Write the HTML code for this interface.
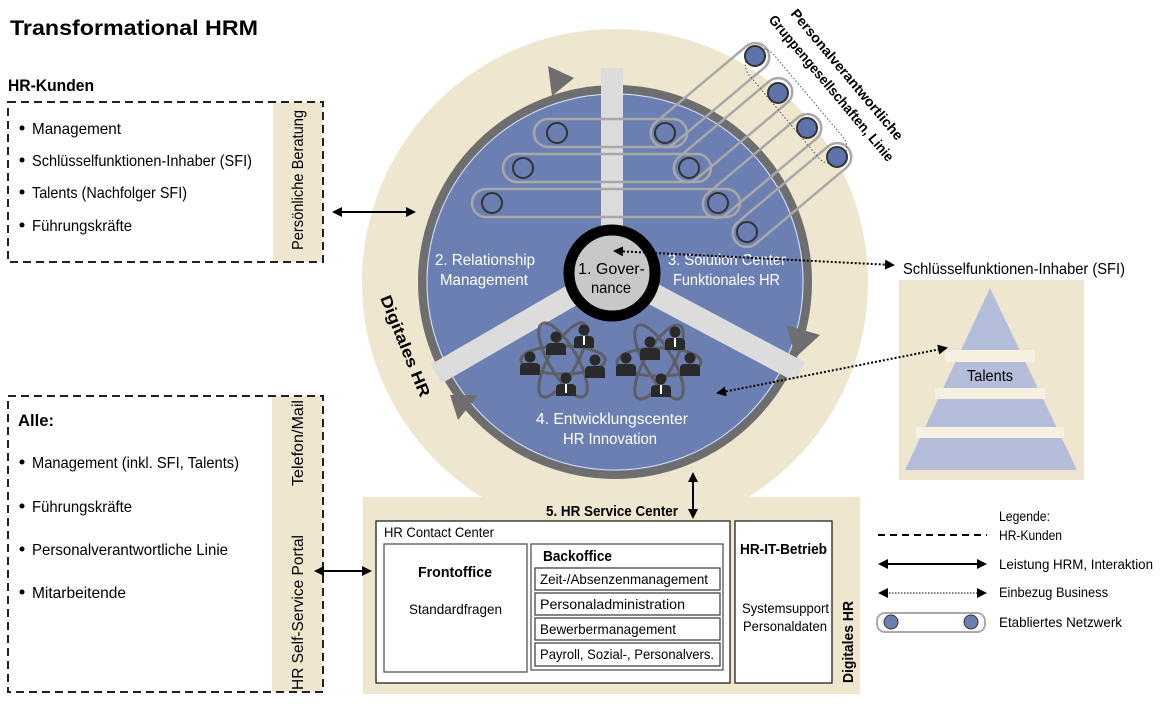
<!DOCTYPE html>
<html><head><meta charset="utf-8"><style>
html,body{margin:0;padding:0;background:#fff;}
svg{display:block;font-family:"Liberation Sans",sans-serif;}
</style></head><body>
<svg width="1161" height="704" viewBox="0 0 1161 704" xmlns="http://www.w3.org/2000/svg">
<defs>
<marker id="ah" markerWidth="10" markerHeight="10" refX="8" refY="5" orient="auto-start-reverse" markerUnits="userSpaceOnUse"><path d="M0,0 L10,5 L0,10 Z" fill="#000"/></marker>
<g id="p"><circle cx="0" cy="-8" r="5.5" fill="#2a2a2a"/><path d="M-10,10 L-10,2 Q-10,-2 -5,-2 L5,-2 Q10,-2 10,2 L10,10 Z" fill="#2a2a2a"/></g>
<g id="pt"><circle cx="0" cy="-8" r="5.5" fill="#2a2a2a"/><path d="M-10,10 L-10,2 Q-10,-2 -5,-2 L5,-2 Q10,-2 10,2 L10,10 Z" fill="#2a2a2a"/><rect x="-1" y="-2" width="2" height="9" fill="#fff"/></g>
</defs>

<text x="10" y="35" font-weight="bold" font-size="21" textLength="248" lengthAdjust="spacingAndGlyphs">Transformational HRM</text>

<!-- HR-Kunden box -->
<text x="8" y="91" font-weight="bold" font-size="17" textLength="86" lengthAdjust="spacingAndGlyphs">HR-Kunden</text>
<rect x="273" y="102" width="50" height="160" fill="#efe6d0"/>
<rect x="8" y="102" width="315" height="160" fill="none" stroke="#222" stroke-width="2" stroke-dasharray="8,5"/>
<text transform="translate(303,250) rotate(-90)" font-size="16" textLength="140" lengthAdjust="spacingAndGlyphs">Persönliche Beratung</text>
<g font-size="16">
<circle cx="22" cy="128" r="2.5"/><text x="32" y="134" textLength="89" lengthAdjust="spacingAndGlyphs">Management</text>
<circle cx="22" cy="160" r="2.5"/><text x="32" y="166" textLength="220" lengthAdjust="spacingAndGlyphs">Schlüsselfunktionen-Inhaber (SFI)</text>
<circle cx="22" cy="192" r="2.5"/><text x="32" y="198" textLength="155" lengthAdjust="spacingAndGlyphs">Talents (Nachfolger SFI)</text>
<circle cx="22" cy="225" r="2.5"/><text x="32" y="231" textLength="100" lengthAdjust="spacingAndGlyphs">Führungskräfte</text>
</g>

<!-- Alle box -->
<rect x="272" y="396" width="51" height="296" fill="#efe6d0"/>
<rect x="8" y="396" width="315" height="296" fill="none" stroke="#222" stroke-width="2" stroke-dasharray="8,5"/>
<text x="18" y="426" font-weight="bold" font-size="17" textLength="36" lengthAdjust="spacingAndGlyphs">Alle:</text>
<text transform="translate(303,486) rotate(-90)" font-size="16" textLength="86" lengthAdjust="spacingAndGlyphs">Telefon/Mail</text>
<text transform="translate(303,690) rotate(-90)" font-size="16" textLength="155" lengthAdjust="spacingAndGlyphs">HR Self-Service Portal</text>
<g font-size="16">
<circle cx="22" cy="462" r="2.5"/><text x="32" y="468" textLength="207" lengthAdjust="spacingAndGlyphs">Management (inkl. SFI, Talents)</text>
<circle cx="22" cy="506" r="2.5"/><text x="32" y="512" textLength="100" lengthAdjust="spacingAndGlyphs">Führungskräfte</text>
<circle cx="22" cy="549" r="2.5"/><text x="32" y="555" textLength="196" lengthAdjust="spacingAndGlyphs">Personalverantwortliche Linie</text>
<circle cx="22" cy="592" r="2.5"/><text x="32" y="598" textLength="94" lengthAdjust="spacingAndGlyphs">Mitarbeitende</text>
</g>

<!-- big circle -->
<circle cx="615" cy="282" r="253" fill="#efe6d0"/>
<rect x="363" y="497" width="497" height="197" fill="#efe6d0"/>
<circle cx="615" cy="282" r="193" fill="#6b7fb2" stroke="#6e6e6e" stroke-width="8"/>
<circle cx="615" cy="282" r="188" fill="none" stroke="#dfe3ee" stroke-width="1"/>

<!-- spokes -->
<g stroke="#dcdcdc" stroke-width="22">
<line x1="612" y1="272" x2="612" y2="68"/>
<line x1="612" y1="272" x2="436" y2="374"/>
<line x1="612" y1="272" x2="800" y2="372"/>
</g>

<!-- ring arrows -->
<g fill="#6e6e6e">
<path d="M548,66 L574,78 L552,96 Z"/>
<path d="M786,325 L820,335 L796,357 Z"/>
<path d="M450,395 L478,395 L458,420 Z"/>
</g>

<!-- networks -->
<g fill="none" stroke="#a8a8a8" stroke-width="2.5">
<rect x="534" y="119" width="153" height="28" rx="14"/>
<rect x="503" y="154" width="208" height="28" rx="14"/>
<rect x="472" y="189" width="268" height="28" rx="14"/>
</g>
<g fill="none" stroke="#a8a8a8" stroke-width="2.5">
<rect x="-73" y="-14" width="146" height="28" rx="14" transform="translate(710,95) rotate(-40)"/>
<rect x="-73" y="-14" width="146" height="28" rx="14" transform="translate(733,130) rotate(-40)"/>
<rect x="-73" y="-14" width="146" height="28" rx="14" transform="translate(762,166) rotate(-40)"/>
<rect x="-73" y="-14" width="146" height="28" rx="14" transform="translate(792,195) rotate(-40)"/>
</g>
<rect x="-16" y="-70" width="32" height="140" rx="16" transform="translate(796,106) rotate(-40)" fill="none" stroke="#555" stroke-width="1" stroke-dasharray="1.5,2"/>
<g fill="none" stroke="#333" stroke-width="2">
<circle cx="557" cy="133" r="10"/><circle cx="665" cy="133" r="10"/>
<circle cx="523" cy="168" r="10"/><circle cx="689" cy="168" r="10"/>
<circle cx="492" cy="203" r="10"/><circle cx="718" cy="203" r="10"/>
<circle cx="747" cy="232" r="10"/>
</g>
<g fill="#5d74ab" stroke="#333" stroke-width="2">
<circle cx="755" cy="56" r="10"/><circle cx="778" cy="93" r="10"/>
<circle cx="807" cy="128" r="10"/><circle cx="837" cy="157" r="10"/>
</g>
<text transform="translate(790,14) rotate(50)" font-weight="bold" font-size="14" textLength="166" lengthAdjust="spacingAndGlyphs">Personalverantwortliche</text>
<text transform="translate(768,20) rotate(50)" font-weight="bold" font-size="14" textLength="186" lengthAdjust="spacingAndGlyphs">Gruppengesellschaften, Linie</text>

<!-- governance -->
<circle cx="612" cy="273" r="43" fill="#c8c8c8" stroke="#000" stroke-width="11"/>
<g fill="#000" font-size="16">
<text x="578" y="274" textLength="67" lengthAdjust="spacingAndGlyphs">1. Gover-</text>
<text x="591" y="293" textLength="40" lengthAdjust="spacingAndGlyphs">nance</text></g>

<g fill="#fff" font-size="16">
<text x="435" y="265" textLength="100" lengthAdjust="spacingAndGlyphs">2. Relationship</text>
<text x="440" y="285" textLength="88" lengthAdjust="spacingAndGlyphs">Management</text>
<text x="668" y="265" textLength="118" lengthAdjust="spacingAndGlyphs">3. Solution Center</text>
<text x="673" y="285" textLength="107" lengthAdjust="spacingAndGlyphs">Funktionales HR</text>
<text x="536" y="424" textLength="152" lengthAdjust="spacingAndGlyphs">4. Entwicklungscenter</text>
<text x="563" y="444" textLength="94" lengthAdjust="spacingAndGlyphs">HR Innovation</text>
</g>

<!-- atoms -->
<g fill="none" stroke="#5a5a5a" stroke-width="3" opacity="0.85">
<ellipse cx="563" cy="360" rx="42" ry="14"/><ellipse cx="563" cy="360" rx="42" ry="14" transform="rotate(60 563 360)"/><ellipse cx="563" cy="360" rx="42" ry="14" transform="rotate(-60 563 360)"/>
<ellipse cx="659" cy="362" rx="42" ry="14"/><ellipse cx="659" cy="362" rx="42" ry="14" transform="rotate(60 659 362)"/><ellipse cx="659" cy="362" rx="42" ry="14" transform="rotate(-60 659 362)"/>
</g>
<use href="#p" x="556" y="345"/><use href="#pt" x="584" y="338"/><use href="#p" x="530" y="365"/><use href="#p" x="595" y="368"/><use href="#pt" x="566" y="386"/>
<use href="#p" x="650" y="350"/><use href="#pt" x="675" y="340"/><use href="#p" x="626" y="366"/><use href="#p" x="690" y="366"/><use href="#pt" x="661" y="387"/>

<text transform="translate(380,298) rotate(68)" font-weight="bold" font-size="16" textLength="108" lengthAdjust="spacingAndGlyphs">Digitales HR</text>

<!-- SFI pyramid -->
<text x="903" y="274" font-size="16" textLength="222" lengthAdjust="spacingAndGlyphs">Schlüsselfunktionen-Inhaber (SFI)</text>
<rect x="899" y="280" width="185" height="200" fill="#efe6d0"/>
<path d="M990,288 L1077,470 L905,470 Z" fill="#b4bedb"/>
<g fill="#f6f0e0">
<rect x="945" y="350" width="90" height="12"/>
<rect x="935" y="388" width="110" height="11"/>
<rect x="916" y="427" width="148" height="11"/>
</g>
<text x="967" y="381" font-size="16" textLength="46" lengthAdjust="spacingAndGlyphs">Talents</text>

<!-- arrows -->
<line x1="334" y1="212" x2="414" y2="212" stroke="#000" stroke-width="2" marker-start="url(#ah)" marker-end="url(#ah)"/>
<line x1="316" y1="571" x2="370" y2="571" stroke="#000" stroke-width="2" marker-start="url(#ah)" marker-end="url(#ah)"/>
<line x1="693" y1="474" x2="693" y2="517" stroke="#000" stroke-width="2" marker-start="url(#ah)" marker-end="url(#ah)"/>
<line x1="615" y1="251" x2="893" y2="265" stroke="#000" stroke-width="2" stroke-dasharray="2,2" marker-start="url(#ah)" marker-end="url(#ah)"/>
<line x1="718" y1="393" x2="946" y2="348" stroke="#000" stroke-width="2" stroke-dasharray="2,2" marker-start="url(#ah)" marker-end="url(#ah)"/>

<!-- service center -->
<text x="546" y="516" font-weight="bold" font-size="15" textLength="132" lengthAdjust="spacingAndGlyphs">5. HR Service Center</text>
<rect x="376" y="521" width="354" height="162" fill="#fff" stroke="#222" stroke-width="1.3"/>
<text x="384" y="537" font-size="14" textLength="110" lengthAdjust="spacingAndGlyphs">HR Contact Center</text>
<rect x="384" y="544" width="143" height="128" fill="#fff" stroke="#555" stroke-width="1.3"/>
<text x="418" y="577" font-size="15" font-weight="bold" textLength="74" lengthAdjust="spacingAndGlyphs">Frontoffice</text>
<text x="409" y="614" font-size="14" textLength="93" lengthAdjust="spacingAndGlyphs">Standardfragen</text>
<rect x="531" y="544" width="192" height="126" fill="#fff" stroke="#555" stroke-width="1.3"/>
<text x="543" y="561" font-size="15" font-weight="bold" textLength="69" lengthAdjust="spacingAndGlyphs">Backoffice</text>
<g fill="#fff" stroke="#444" stroke-width="1.3">
<rect x="535" y="568" width="185" height="22"/><rect x="535" y="593" width="185" height="22"/>
<rect x="535" y="618" width="185" height="22"/><rect x="535" y="643" width="185" height="23"/>
</g>
<g font-size="14">
<text x="540" y="584" textLength="168" lengthAdjust="spacingAndGlyphs">Zeit-/Absenzenmanagement</text>
<text x="540" y="609" textLength="145" lengthAdjust="spacingAndGlyphs">Personaladministration</text>
<text x="540" y="634" textLength="136" lengthAdjust="spacingAndGlyphs">Bewerbermanagement</text>
<text x="540" y="659" textLength="174" lengthAdjust="spacingAndGlyphs">Payroll, Sozial-, Personalvers.</text></g>
<rect x="735" y="521" width="97" height="162" fill="#fff" stroke="#222" stroke-width="1.3"/>
<text x="740" y="554" font-size="15" font-weight="bold" textLength="87" lengthAdjust="spacingAndGlyphs">HR-IT-Betrieb</text>
<text x="742" y="613" font-size="14" textLength="87" lengthAdjust="spacingAndGlyphs">Systemsupport</text>
<text x="743" y="631" font-size="14" textLength="84" lengthAdjust="spacingAndGlyphs">Personaldaten</text>
<text transform="translate(853,683) rotate(-90)" font-weight="bold" font-size="15" textLength="82" lengthAdjust="spacingAndGlyphs">Digitales HR</text>

<!-- legend -->
<g font-size="14">
<text x="999" y="521" textLength="51" lengthAdjust="spacingAndGlyphs">Legende:</text>
<text x="999" y="540" textLength="63" lengthAdjust="spacingAndGlyphs">HR-Kunden</text>
<text x="999" y="569" textLength="154" lengthAdjust="spacingAndGlyphs">Leistung HRM, Interaktion</text>
<text x="999" y="597" textLength="109" lengthAdjust="spacingAndGlyphs">Einbezug Business</text>
<text x="999" y="627" textLength="123" lengthAdjust="spacingAndGlyphs">Etabliertes Netzwerk</text>
</g>
<line x1="878" y1="535" x2="987" y2="535" stroke="#000" stroke-width="2" stroke-dasharray="7,5"/>
<line x1="880" y1="564" x2="985" y2="564" stroke="#000" stroke-width="2" marker-start="url(#ah)" marker-end="url(#ah)"/>
<line x1="880" y1="593" x2="985" y2="593" stroke="#000" stroke-width="1" stroke-dasharray="1.5,1.5" marker-start="url(#ah)" marker-end="url(#ah)"/>
<rect x="877" y="613" width="108" height="19" rx="8" fill="#fff" stroke="#aaa" stroke-width="2"/>
<ellipse cx="891" cy="622" rx="7" ry="7" fill="#6b7fb2" stroke="#333"/>
<ellipse cx="971" cy="622" rx="7" ry="7" fill="#6b7fb2" stroke="#333"/>
</svg>
</body></html>
